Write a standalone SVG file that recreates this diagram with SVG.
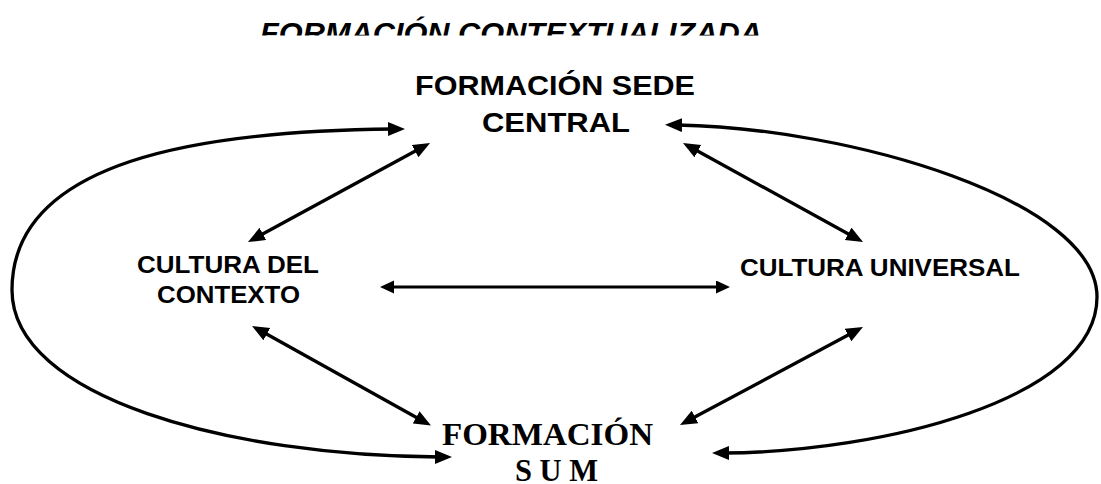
<svg xmlns="http://www.w3.org/2000/svg" width="1101" height="484" viewBox="0 0 1101 484">
<style>
.sans{font-family:"Liberation Sans",Arial,sans-serif;font-weight:bold;fill:#000}
.serif{font-family:"Liberation Serif","Times New Roman",serif;font-weight:bold;fill:#000}
.con{fill:none;stroke:#000;stroke-width:3.3;marker-start:url(#ah);marker-end:url(#ah)}
.con2{fill:none;stroke:#000;stroke-width:2.8;marker-start:url(#ah2);marker-end:url(#ah2)}
</style>
<defs>
<marker id="ah" markerUnits="userSpaceOnUse" markerWidth="18" markerHeight="15" refX="5" refY="7" orient="auto-start-reverse">
<path d="M0,0 L17,7 L0,14 z" fill="#000"/>
</marker>
<marker id="ah2" markerUnits="userSpaceOnUse" markerWidth="15" markerHeight="14" refX="4" refY="6.5" orient="auto-start-reverse">
<path d="M0,0 L14,6.5 L0,13 z" fill="#000"/>
</marker>
<clipPath id="titleclip"><rect x="0" y="0" width="1101" height="35.5"/></clipPath>
</defs>
<rect width="1101" height="484" fill="#fff"/>
<g id="title" clip-path="url(#titleclip)">
<text class="sans" x="511" y="43" font-size="29" font-style="italic" text-anchor="middle" textLength="502" lengthAdjust="spacingAndGlyphs">FORMACIÓN CONTEXTUALIZADA</text>
</g>
<g id="connectors">
<path class="con" d="M 393,129 C 200,131 12,160 12,290 C 12,398 230,456 440,457"/>
<path class="con" d="M 677,125 C 850,128 1097,200 1097,297 C 1097,400 880,452 724,453"/>
<path class="con" d="M 258.5,236.3 L 419.5,148.7"/>
<path class="con" d="M 262.5,331.8 L 420.5,419.7"/>
<path class="con" d="M 693.5,148.8 L 852.5,236.2"/>
<path class="con" d="M 852.4,332.7 L 690.6,419.3"/>
<path class="con2" d="M 390,287 L 720,287"/>
</g>
<g id="sede-central">
<text class="sans" x="555" y="95" font-size="28" text-anchor="middle" textLength="280" lengthAdjust="spacingAndGlyphs">FORMACIÓN SEDE</text>
<text class="sans" x="556" y="132" font-size="28" text-anchor="middle" textLength="148" lengthAdjust="spacingAndGlyphs">CENTRAL</text>
</g>
<g id="cultura-contexto">
<text class="sans" x="228" y="273" font-size="23" text-anchor="middle" textLength="182" lengthAdjust="spacingAndGlyphs">CULTURA DEL</text>
<text class="sans" x="228.5" y="303" font-size="23" text-anchor="middle" textLength="143" lengthAdjust="spacingAndGlyphs">CONTEXTO</text>
</g>
<g id="cultura-universal">
<text class="sans" x="880" y="276" font-size="23" text-anchor="middle" textLength="280" lengthAdjust="spacingAndGlyphs">CULTURA UNIVERSAL</text>
</g>
<g id="formacion-sum">
<text class="serif" x="547.5" y="445" font-size="31" text-anchor="middle" textLength="211" lengthAdjust="spacingAndGlyphs">FORMACIÓN</text>
<text class="serif" x="556.5" y="481" font-size="31" text-anchor="middle" textLength="83" lengthAdjust="spacingAndGlyphs">S U M</text>
</g>
</svg>
